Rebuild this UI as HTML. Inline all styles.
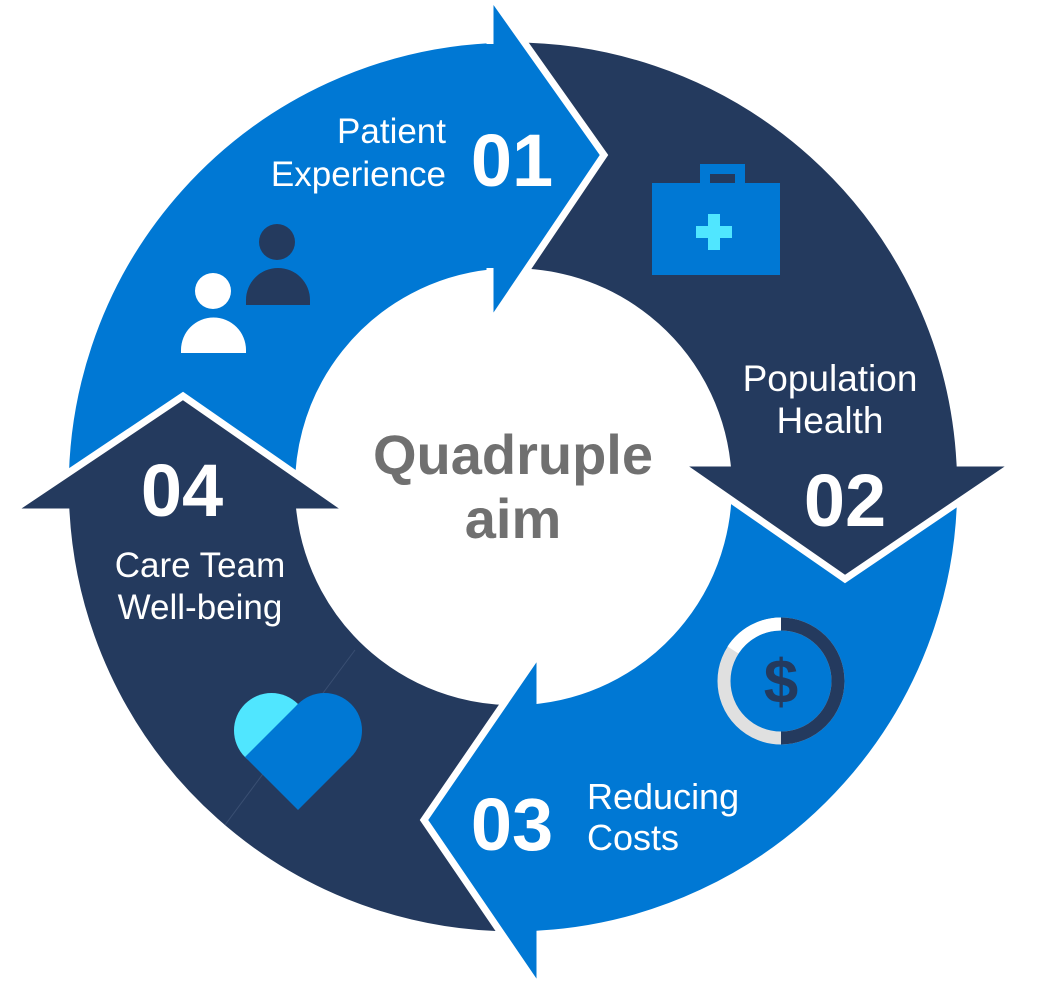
<!DOCTYPE html>
<html><head><meta charset="utf-8"><style>
html,body{margin:0;padding:0;background:#fff;}
svg{display:block;}
text{font-family:"Liberation Sans",sans-serif;}
</style></head><body>
<svg width="1041" height="998" viewBox="0 0 1041 998" xmlns="http://www.w3.org/2000/svg">
<g stroke="#fff" stroke-width="7" stroke-linejoin="miter">
<path fill="#0078D4" d="M66,512 A448,448 0 0 1 490,39.6 L490,-6 L604,155 L490,324 L490,273 A215,215 0 0 0 300,512 Z"/>
<path fill="#243A5E" d="M540,934 A448,448 0 0 1 66,512 L10,512 L183,396 L350,512 L300,512 A215,215 0 0 0 540,700 Z"/>
<path fill="#0078D4" d="M960,463 A448,448 0 0 1 540,934 L540,990 L424,820 L540,651 L540,700 A215,215 0 0 0 727,463 Z"/>
<path fill="#243A5E" d="M490,39.6 A448,448 0 0 1 960,463 L1016,463 L845,579 L678,463 L727,463 A215,215 0 0 0 490,273 Z"/>
<path fill="#0078D4" d="M490,-6 L604,155 L490,324 Z"/>
</g>
<polygon fill="#0078D4" points="484,44 494,44 494,268 484,268"/>
<line x1="355" y1="650" x2="225" y2="825" stroke="#3a4f72" stroke-width="1"/>

<circle cx="277" cy="242" r="18" fill="#243A5E"/>
<path d="M246,305 L246,300 A32,32 0 0 1 310,300 L310,305 Z" fill="#243A5E"/>
<circle cx="213" cy="291" r="18" fill="#fff"/>
<path d="M181,353 L181,350 A32,32 0 0 1 246,350 L246,353 Z" fill="#fff"/>

<rect x="652" y="183" width="128" height="92" fill="#0078D4"/>
<path d="M700,183 L700,164 L745,164 L745,183 L735,183 L735,174 L710,174 L710,183 Z" fill="#0078D4"/>
<rect x="708" y="214" width="12" height="36" fill="#50E6FF"/>
<rect x="696" y="226" width="36" height="12" fill="#50E6FF"/>

<circle cx="781" cy="681" r="57" fill="none" stroke="#e0e0e0" stroke-width="13"/>
<path d="M781,624 A57,57 0 0 1 781,738" fill="none" stroke="#243A5E" stroke-width="13"/>
<path d="M781,624 A57,57 0 0 0 733,650" fill="none" stroke="#fff" stroke-width="13"/>
<text x="781" y="703" font-size="62" font-weight="bold" fill="#243A5E" text-anchor="middle">$</text>

<circle cx="271.5" cy="730.5" r="37.5" fill="#50E6FF"/>
<circle cx="324.5" cy="730.5" r="37.5" fill="#0078D4"/>
<polygon points="298,704 351,757 298,810 245,757" fill="#0078D4"/>

<g fill="#fff">
<text x="446" y="143" font-size="35" text-anchor="end">Patient</text>
<text x="446" y="186" font-size="35" text-anchor="end">Experience</text>
<text x="512" y="186" font-size="74" font-weight="bold" text-anchor="middle">01</text>
<text x="830" y="391" font-size="37" text-anchor="middle">Population</text>
<text x="830" y="433" font-size="37" text-anchor="middle">Health</text>
<text x="845" y="526" font-size="74" font-weight="bold" text-anchor="middle">02</text>
<text x="512" y="850" font-size="74" font-weight="bold" text-anchor="middle">03</text>
<text x="587" y="809" font-size="36">Reducing</text>
<text x="587" y="850" font-size="36">Costs</text>
<text x="182" y="516" font-size="74" font-weight="bold" text-anchor="middle">04</text>
<text x="200" y="577" font-size="35" text-anchor="middle">Care Team</text>
<text x="200" y="619" font-size="35" text-anchor="middle">Well-being</text>
</g>
<text x="513" y="474" font-size="56" font-weight="bold" fill="#707070" text-anchor="middle">Quadruple</text>
<text x="513" y="538" font-size="56" font-weight="bold" fill="#707070" text-anchor="middle">aim</text>
</svg>
</body></html>
